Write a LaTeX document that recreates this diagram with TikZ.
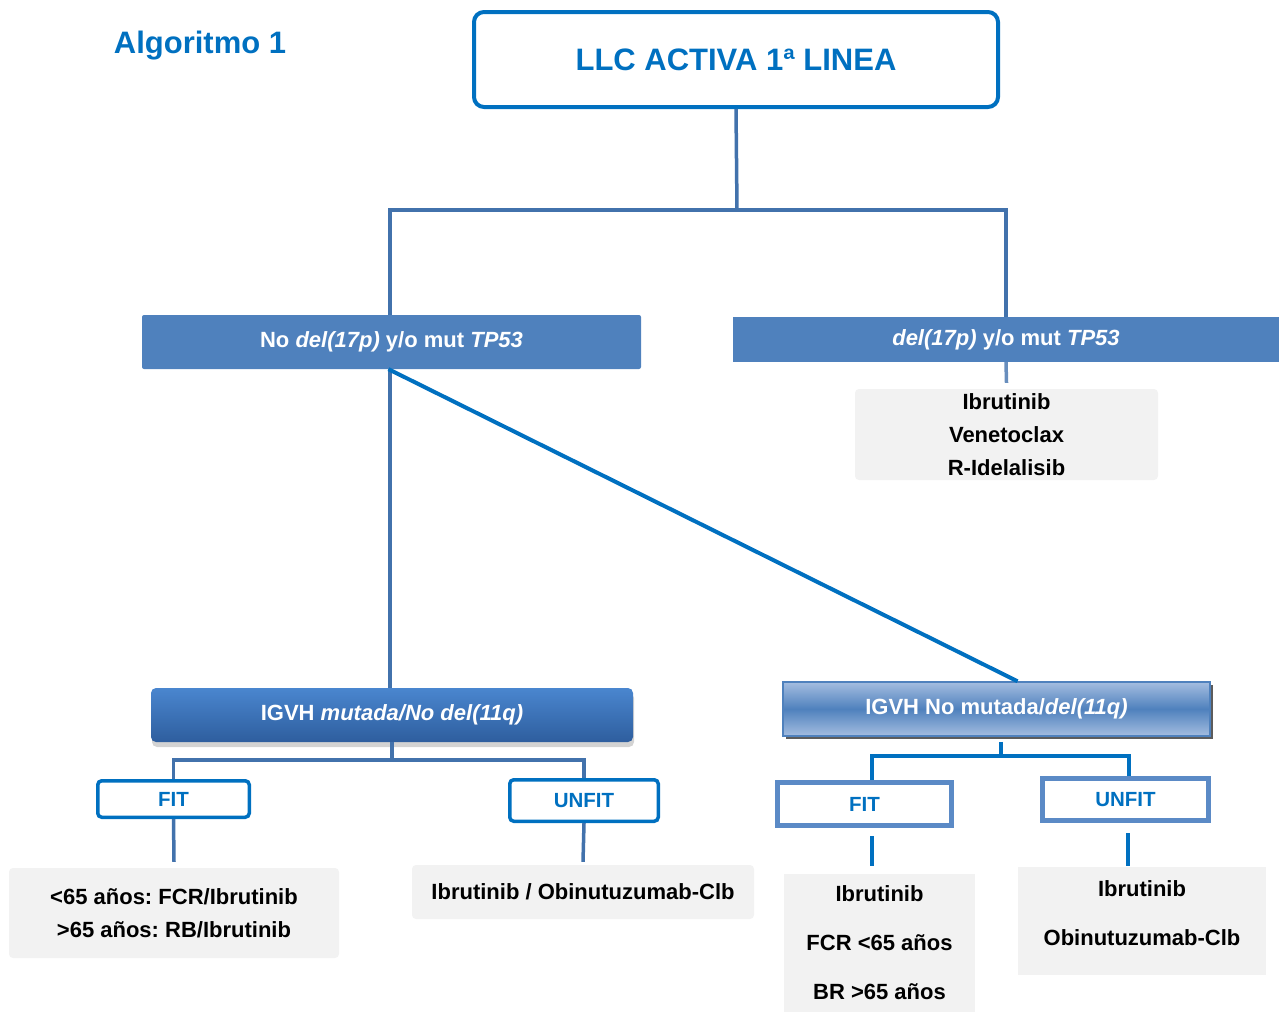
\documentclass[tikz,border=0pt]{standalone}
\usepackage{fontspec}
\setmainfont{Liberation Sans}
\usetikzlibrary{shadows}
\definecolor{blueA}{HTML}{0070C0}
\definecolor{steel}{HTML}{4272AC}
\definecolor{boxblue}{HTML}{4F81BD}
\definecolor{greyF}{HTML}{F2F2F2}
\definecolor{gradTop}{HTML}{4A86CF}
\definecolor{gradBot}{HTML}{2E5E9E}
\definecolor{lightGrad}{HTML}{A4BDE0}
\definecolor{fitRcol}{HTML}{5B8AC6}
\frenchspacing
\begin{document}
\begin{tikzpicture}[x=1pt,y=-1pt,
  every node/.style={font=\bfseries\fontsize{22}{26}\selectfont, inner sep=0pt},
  hdr/.style={fill=boxblue, text=white, rounded corners=2pt},
  grey/.style={fill=greyF, rounded corners=4pt, align=center, text=black},
  fitL/.style={draw=blueA, line width=3.5pt, rounded corners=4pt, text=blueA, font=\bfseries\fontsize{20.5}{24}\selectfont},
  fitR/.style={draw=fitRcol, line width=5pt, text=blueA, font=\bfseries\fontsize{20.5}{24}\selectfont},
  conn/.style={draw=steel, line width=3.5pt},
  connB/.style={draw=blueA, line width=4pt}
]
\useasboundingbox (0,0) rectangle (1279,1012);

% title
\node[text=blueA, font=\bfseries\fontsize{31}{36}\selectfont] (algo) at (200,46) {Algoritmo 1};
\node[draw=blueA, line width=4pt, rounded corners=10pt, minimum width=524pt, minimum height=95pt,
      text=blueA, font=\bfseries\fontsize{31}{36}\selectfont] (top) at (736,59.5) {LLC ACTIVA 1ª LINEA};

% level 1
\node[hdr, minimum width=499pt, minimum height=54pt] (nodel) at (391.5,342) {No \textit{del(17p)} y/o mut \textit{TP53}};
\node[hdr, rounded corners=0pt, minimum width=546pt, minimum height=45pt] (del) at (1006,339.5) {\textit{del(17p)} y/o mut \textit{TP53}};
\node[grey, minimum width=303pt, minimum height=91pt, font=\bfseries\fontsize{22}{33}\selectfont] (g1) at (1006.5,434.5) {Ibrutinib\\Venetoclax\\R-Idelalisib};

% level 2
\node[top color=gradTop, bottom color=gradBot, text=white, rounded corners=5pt,
      minimum width=482pt, minimum height=54pt,
      drop shadow={opacity=0.35, shadow xshift=1pt, shadow yshift=-5pt}] (mut) at (392,715) {IGVH \textit{mutada/No del(11q)}};
\node[top color=lightGrad, bottom color=lightGrad, middle color=boxblue, draw=boxblue, line width=1.5pt, text=white,
      minimum width=427pt, minimum height=54pt,
      drop shadow={opacity=0.85, shadow xshift=3pt, shadow yshift=-3pt, fill=black!75}] (nomut) at (996.5,709) {IGVH No mutada/\textit{del(11q)}};

% fit/unfit left
\node[fitL, minimum width=151.5pt, minimum height=36.5pt] (fitl) at (173.5,799) {FIT};
\node[fitL, minimum width=148.5pt, minimum height=41.5pt] (unfitl) at (584,800.5) {UNFIT};
\node[grey, minimum width=330pt, minimum height=90pt, font=\bfseries\fontsize{22}{33}\selectfont] (gl1) at (174,913) {<65 años: FCR/Ibrutinib\\>65 años: RB/Ibrutinib};
\node[grey, minimum width=342pt, minimum height=54pt] (gl2) at (583,892) {Ibrutinib / Obinutuzumab-Clb};

% fit/unfit right
\node[fitR, minimum width=174pt, minimum height=43pt] (fitr) at (864.5,804) {FIT};
\node[fitR, minimum width=166pt, minimum height=42pt] (unfitr) at (1125.5,799.5) {UNFIT};
\node[grey, rounded corners=0pt, minimum width=191pt, minimum height=138pt, font=\bfseries\fontsize{22}{49}\selectfont] (gr1) at (879.5,943) {Ibrutinib\\FCR <65 años\\BR >65 años};
\node[grey, rounded corners=0pt, minimum width=248pt, minimum height=108pt] (gr2) at (1142,921) {};
\node[align=center, font=\bfseries\fontsize{22}{49}\selectfont] (gr2t) at (1142,913.5) {Ibrutinib\\Obinutuzumab-Clb};

% connectors top
\coordinate (j1) at (737,210);
\draw[conn] (top.south) -- (j1);
\draw[conn] (j1) -| ([xshift=-1.5pt]nodel.north);
\draw[conn] (j1) -| (del.north);
\draw[conn, draw=steel!80] (del.south) -- ([yshift=6pt]g1.north);

\draw[conn] ([xshift=-1.5pt]nodel.south) -- ([xshift=-2pt]mut.north);
\draw[connB] ([xshift=-3pt]nodel.south) -- ([xshift=21pt]nomut.north);

% connectors left
\coordinate (j2) at (392,760);
\draw[conn] (mut.south) -- (j2);
\draw[conn] (j2) -| (fitl.north);
\draw[conn] (j2) -| (unfitl.north);
\draw[conn] (fitl.south) -- ([yshift=6pt]gl1.north);
\draw[conn] (unfitl.south) -- ([yshift=3pt]gl2.north);

% connectors right
\coordinate (j3) at (1001,756);
\draw[connB] ([xshift=4.5pt,yshift=-5pt]nomut.south) -- (j3);
\draw[connB] (j3) -| ([xshift=7.5pt]fitr.north);
\draw[connB] (j3) -| ([xshift=3.5pt]unfitr.north);
\draw[connB] ([xshift=7.5pt,yshift=-8pt]fitr.south) -- ([xshift=-7.5pt,yshift=8pt]gr1.north);
\draw[connB] ([xshift=2.5pt,yshift=-10pt]unfitr.south) -- ([xshift=-14pt,yshift=1pt]gr2.north);
\end{tikzpicture}
\end{document}
